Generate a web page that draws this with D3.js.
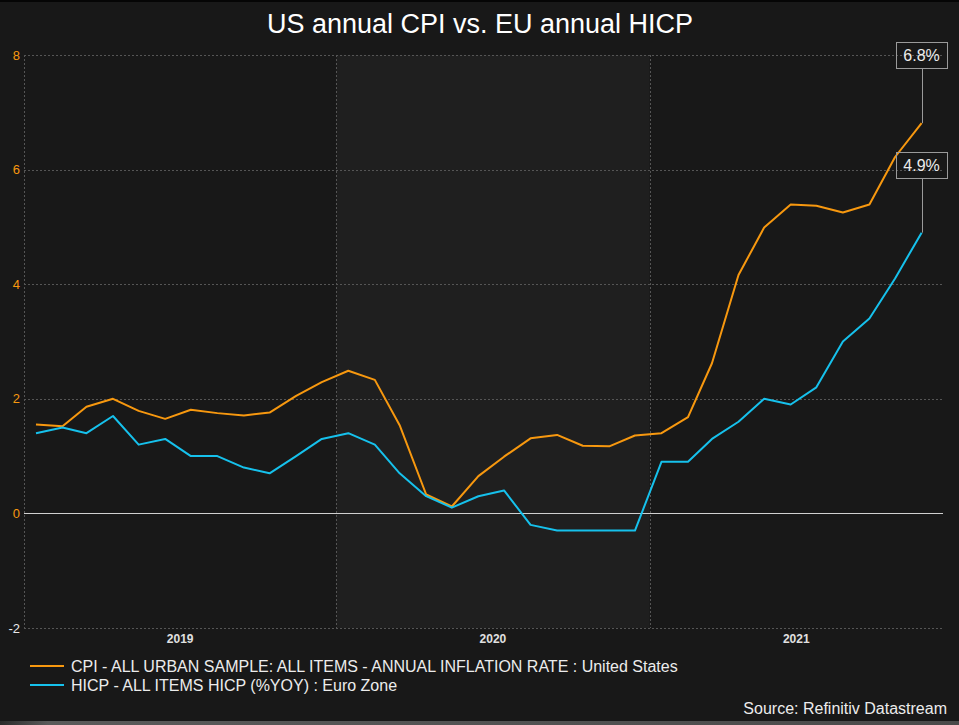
<!DOCTYPE html>
<html>
<head>
<meta charset="utf-8">
<script src="https://cdn.jsdelivr.net/npm/d3@7"></script>
<style>
html,body{margin:0;padding:0;background:#181818;}
svg{display:block;}
text{font-family:"Liberation Sans",Arial,sans-serif;}
</style>
</head>
<body>
<script>
// ---- Data ----
const months = ["2019-01","2019-02","2019-03","2019-04","2019-05","2019-06","2019-07","2019-08","2019-09","2019-10","2019-11","2019-12",
"2020-01","2020-02","2020-03","2020-04","2020-05","2020-06","2020-07","2020-08","2020-09","2020-10","2020-11","2020-12",
"2021-01","2021-02","2021-03","2021-04","2021-05","2021-06","2021-07","2021-08","2021-09","2021-10","2021-11"];
const cpiValues = [1.55,1.52,1.86,2.00,1.79,1.65,1.81,1.75,1.71,1.76,2.05,2.29,
2.49,2.33,1.54,0.33,0.12,0.65,0.99,1.31,1.37,1.18,1.17,1.36,
1.40,1.68,2.62,4.16,4.99,5.39,5.37,5.25,5.39,6.22,6.81];
const hicpValues = [1.4,1.5,1.4,1.7,1.2,1.3,1.0,1.0,0.8,0.7,1.0,1.3,
1.4,1.2,0.7,0.3,0.1,0.3,0.4,-0.2,-0.3,-0.3,-0.3,-0.3,
0.9,0.9,1.3,1.6,2.0,1.9,2.2,3.0,3.4,4.1,4.9];
const yTicks = [-2,0,2,4,6,8];
const yearLabels = ["2019","2020","2021"];
const seriesNames = ["CPI - ALL URBAN SAMPLE: ALL ITEMS - ANNUAL INFLATION RATE : United States",
                     "HICP - ALL ITEMS HICP (%YOY) : Euro Zone"];
const titleText = "US annual CPI vs. EU annual HICP";
const sourceText = "Source: Refinitiv Datastream";

// ---- Layout ----
const W = 959, H = 725;
const pL = 24, pR = 943, pT = 55, pB = 628;
const colors = ["#f7980f", "#16c1ec"];

const svg = d3.select("body").append("svg").attr("width", W).attr("height", H);
svg.append("rect").attr("width", W).attr("height", H).attr("fill", "#181818");
svg.append("rect").attr("width", W).attr("height", 2).attr("fill", "#050505");
const grad = svg.append("defs").append("linearGradient").attr("id","bot");
grad.append("stop").attr("offset","0").attr("stop-color","#2a2a2a");
grad.append("stop").attr("offset","0.05").attr("stop-color","#5a5a5a");
grad.append("stop").attr("offset","1").attr("stop-color","#4a4a4a");
svg.append("rect").attr("x",0).attr("y",721).attr("width",W).attr("height",4).attr("fill","url(#bot)");

const parse = d3.timeParse("%Y-%m");
const dates = months.map(m => { const d = parse(m); d.setDate(15); return d; });

const x = d3.scaleTime().domain([new Date(2019,0,1), new Date(2021,11,10)]).range([pL, pR]);
const y = d3.scaleLinear().domain([-2, 8]).range([pB, pT]);

// shaded 2020 band
svg.append("rect")
  .attr("x", x(new Date(2020,0,1))).attr("y", pT)
  .attr("width", x(new Date(2021,0,1)) - x(new Date(2020,0,1)))
  .attr("height", pB - pT).attr("fill", "#1f1f1f");

// horizontal gridlines
const gridColor = "#555";
svg.append("g").selectAll("line").data(yTicks.filter(t => t !== 0)).join("line")
  .attr("x1", pL).attr("x2", pR)
  .attr("y1", d => Math.round(y(d)) + 0.5).attr("y2", d => Math.round(y(d)) + 0.5)
  .attr("stroke", gridColor).attr("stroke-dasharray", "2,2").attr("stroke-width", 1);
// vertical gridlines (year boundaries + left edge)
const vLines = [new Date(2019,0,1), new Date(2020,0,1), new Date(2021,0,1)];
svg.append("g").selectAll("line").data(vLines).join("line")
  .attr("x1", d => Math.round(x(d)) + 0.5).attr("x2", d => Math.round(x(d)) + 0.5)
  .attr("y1", pT).attr("y2", pB)
  .attr("stroke", gridColor).attr("stroke-dasharray", "2,2").attr("stroke-width", 1);

// zero line
svg.append("line").attr("x1", pL).attr("x2", pR)
  .attr("y1", Math.round(y(0)) + 0.5).attr("y2", Math.round(y(0)) + 0.5)
  .attr("stroke", "#d0d0d0").attr("stroke-width", 1);

// y tick labels
svg.append("g").selectAll("text").data(yTicks).join("text")
  .attr("x", 20).attr("y", d => y(d) + 4.5)
  .attr("text-anchor", "end").attr("font-size", 13)
  .attr("fill", d => d === -2 ? "#e8e8e8" : "#f7980f")
  .text(d => d);

// x year labels centered in visible span
svg.append("g").selectAll("text").data(yearLabels).join("text")
  .attr("x", d => {
    const yr = +d;
    const a = Math.max(pL, x(new Date(yr,0,1)));
    const b = Math.min(pR, x(new Date(yr+1,0,1)));
    return (a + b) / 2;
  })
  .attr("y", 643).attr("text-anchor", "middle")
  .attr("font-size", 12).attr("font-weight", "bold").attr("fill", "#e0e0e0")
  .text(d => d);

// lines
const line = d3.line().x((d, i) => x(dates[i])).y(d => y(d));
[cpiValues, hicpValues].forEach((vals, k) => {
  svg.append("path").datum(vals).attr("d", line)
    .attr("fill", "none").attr("stroke", colors[k]).attr("stroke-width", 2)
    .attr("stroke-linejoin", "round");
});

// end-value annotations
const fmt = d3.format(".1f");
const lastIdx = months.length - 1;
const boxCenters = [y(8), y(8) + 110];
[cpiValues, hicpValues].forEach((vals, k) => {
  const px = x(dates[lastIdx]);
  const py = y(vals[lastIdx]);
  const cy = boxCenters[k];
  const bw = 51, bh = 26;
  svg.append("line").attr("x1", Math.round(px)+0.5).attr("x2", Math.round(px)+0.5)
    .attr("y1", cy + bh/2).attr("y2", py)
    .attr("stroke", "#9a9a9a").attr("stroke-width", 1);
  svg.append("rect").attr("x", Math.round(px - bw/2)+0.5).attr("y", Math.round(cy - bh/2)+0.5)
    .attr("width", bw).attr("height", bh)
    .attr("fill", "none").attr("stroke", "#9a9a9a").attr("stroke-width", 1);
  svg.append("text").attr("x", px).attr("y", cy + 6)
    .attr("text-anchor", "middle").attr("font-size", 16).attr("fill", "#ececec")
    .text(fmt(vals[lastIdx]) + "%");
});

// title
svg.append("text").attr("x", 480).attr("y", 33).attr("text-anchor", "middle")
  .attr("font-size", 27).attr("fill", "#ffffff").text(titleText);

// legend
seriesNames.forEach((name, k) => {
  const ly = 666 + k * 19;
  svg.append("line").attr("x1", 30).attr("x2", 64).attr("y1", ly).attr("y2", ly)
    .attr("stroke", colors[k]).attr("stroke-width", 2);
  svg.append("text").attr("x", 71).attr("y", ly + 6)
    .attr("font-size", 16).attr("fill", "#ececec").text(name);
});

// source
svg.append("text").attr("x", 947).attr("y", 714).attr("text-anchor", "end")
  .attr("font-size", 16).attr("fill", "#ececec").text(sourceText);
</script>
</body>
</html>
